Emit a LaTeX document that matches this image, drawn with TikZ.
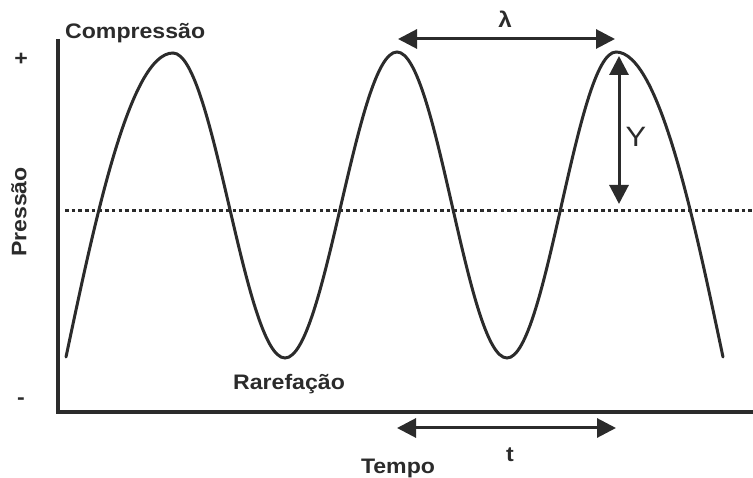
\documentclass[tikz,border=0pt]{standalone}
\usepackage{fontspec}
\setmainfont{Liberation Sans}
\newfontfamily\lbl[FakeStretch=1.1]{Liberation Sans}
\usetikzlibrary{arrows.meta}
\definecolor{ink}{HTML}{2B2B2B}
\tikzset{
  axisline/.style={line width=4pt, ink},
  wave/.style={line width=3pt, ink, line cap=round},
  midline/.style={line width=3pt, ink, dash pattern=on 3.5pt off 3.2pt},
  dimarrow/.style={line width=3pt, ink, {Triangle[length=19pt,width=19pt]}-{Triangle[length=19pt,width=19pt]}},
  lab/.style={inner sep=0pt, text=ink, font=\lbl\bfseries\fontsize{21}{25}\selectfont},
}
\begin{document}
\begin{tikzpicture}[x=1pt,y=-1pt]
\useasboundingbox (0,0) rectangle (753,478);
% axes
\coordinate (ytop) at (58,39);
\coordinate (origin) at (58,412.5);
\coordinate (xend) at (753,412.5);
\draw[axisline] (ytop) -- (58,414.5) (56,412.5) -- (xend);
% dotted mid line
\coordinate (mstart) at (65,211);
\coordinate (mend) at (753,211);
\draw[midline] (mstart) -- (mend);
% wave
\coordinate (s) at (66,357);
\coordinate (p1) at (173,53);
\coordinate (t1) at (285,358);
\coordinate (p2) at (397,52);
\coordinate (t2) at (507,358);
\coordinate (p3) at (616,52);
\coordinate (e) at (723,357);
\draw[wave] (s) .. controls (95,220) and (130,53) .. (p1)
  .. controls (213.7,53) and (244.3,358) .. (t1)
  .. controls (325.7,358) and (356.3,52) .. (p2)
  .. controls (437,52) and (467,358) .. (t2)
  .. controls (546.6,358) and (576.4,52) .. (p3)
  .. controls (659,52) and (694,220) .. (e);
% dimension arrows
\coordinate (la) at (398,39);
\coordinate (lb) at (615,39);
\draw[dimarrow] (la) -- (lb);
\coordinate (ya) at (619,56);
\coordinate (yb) at (619,204);
\draw[dimarrow] (ya) -- (yb);
\coordinate (ta) at (397,428);
\coordinate (tb) at (616,428);
\draw[dimarrow] (ta) -- (tb);
% labels
\node[lab, anchor=base west] (comp) at (65,39) {Compressão};
\node[lab, anchor=base west] (rare) at (233,390) {Rarefação};
\node[lab, anchor=base] (tempo) at (398,474) {Tempo};
\node[lab, anchor=base] (tlab) at (510,461) {t};
\node[lab, rotate=90] (press) at (19,212) {Pressão};
\node[lab] (plus) at (21,59) {+};
\node[lab] (minus) at (21,401) {-};
\node[lab, font=\lbl\bfseries\fontsize{22}{26}\selectfont] (lam) at (505,19) {λ};
\node[lab, font=\lbl\fontsize{28}{32}\selectfont] (ylab) at (636,137) {Y};
\end{tikzpicture}
\end{document}
